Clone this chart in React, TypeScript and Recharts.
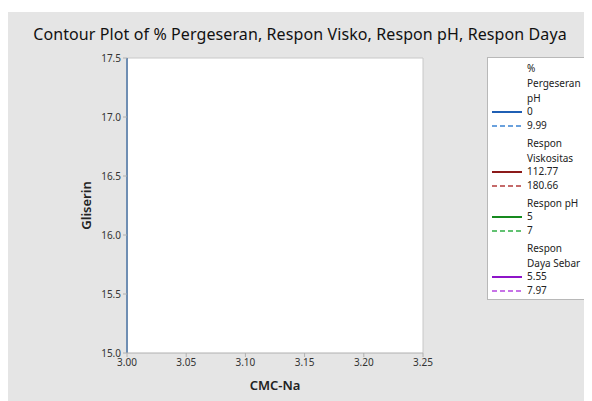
import React from "react";
import {
  ComposedChart,
  Line,
  XAxis,
  YAxis,
  CartesianGrid,
  ReferenceLine,
} from "recharts";

const xTicks = [3.0, 3.05, 3.1, 3.15, 3.2, 3.25];
const yTicks = [15.0, 15.5, 16.0, 16.5, 17.0, 17.5];
const pergeseranZero = [
  { cmc: 3.0, gliserin: 15.0 },
  { cmc: 3.0, gliserin: 17.5 },
];

const legendGroups = [
  { title: ["%", "Pergeseran", "pH"], solid: "0", dashed: "9.99", c1: "#1f5fb4", c2: "#3a82d2" },
  { title: ["Respon", "Viskositas"], solid: "112.77", dashed: "180.66", c1: "#8c1a1a", c2: "#b23a3a" },
  { title: ["Respon pH"], solid: "5", dashed: "7", c1: "#168a1e", c2: "#2fae44" },
  { title: ["Respon", "Daya Sebar"], solid: "5.55", dashed: "7.97", c1: "#8e14c8", c2: "#b545e0" },
];

const FONT = "'Noto Sans', 'Open Sans', sans-serif";

const LegendBox = () => {
  const row = 14;
  const items: React.ReactNode[] = [];
  let y = 12;
  legendGroups.forEach((g, gi) => {
    if (gi > 0) y += 4;
    g.title.forEach((t) => {
      items.push(
        <text key={`t${gi}${t}`} x={40} y={y} fontSize={10} fill="#222" dominantBaseline="middle">
          {t}
        </text>
      );
      y += row + 1;
    });
    y -= 2;
    items.push(
      <g key={`s${gi}`}>
        <line x1={5} x2={35} y1={y} y2={y} stroke={g.c1} strokeWidth={2} />
        <text x={40} y={y} fontSize={10} fill="#222" dominantBaseline="middle">{g.solid}</text>
      </g>
    );
    y += row;
    items.push(
      <g key={`d${gi}`}>
        <line x1={5} x2={35} y1={y} y2={y} stroke={g.c2} strokeWidth={1.5} strokeDasharray="5 3" />
        <text x={40} y={y} fontSize={10} fill="#222" dominantBaseline="middle">{g.dashed}</text>
      </g>
    );
    y += row;
  });
  return (
    <svg width={102} height={243} style={{ display: "block", fontFamily: FONT }}>
      <rect x={0.5} y={0.5} width={101} height={242} fill="#fff" stroke="#b8b8b8" />
      {items}
    </svg>
  );
};

export default function App() {
  return (
    <div style={{ marginTop: 4, width: 584, height: 389, background: "#e5e5e5", position: "relative", fontFamily: FONT }}>
      <div
        style={{
          position: "absolute",
          top: 11,
          left: 0,
          width: 584,
          textAlign: "center",
          fontSize: 16,
          letterSpacing: 0.1,
          color: "#111",
          fontFamily: FONT,
        }}
      >
        Contour Plot of % Pergeseran, Respon Visko, Respon pH, Respon Daya
      </div>
      <ComposedChart
        width={584}
        height={389}
        data={pergeseranZero}
        margin={{ top: 46, right: 169, left: 0, bottom: 0 }}
        style={{ fontFamily: FONT }}
      >
        <CartesianGrid fill="#ffffff" fillOpacity={1} horizontal={false} vertical={false} />
        <XAxis
          dataKey="cmc"
          type="number"
          domain={[3.0, 3.25]}
          ticks={xTicks}
          tickFormatter={(v: number) => v.toFixed(2)}
          height={48}
          stroke="#b0b0b0"
          tick={{ fontSize: 10, fill: "#333" }}
          tickSize={4}
          label={{ value: "CMC-Na", position: "insideBottom", offset: 11, fontSize: 13, fill: "#222", fontWeight: 600 }}
        />
        <YAxis
          dataKey="gliserin"
          type="number"
          domain={[15.0, 17.5]}
          ticks={yTicks}
          tickFormatter={(v: number) => v.toFixed(1)}
          width={119}
          stroke="#b0b0b0"
          tick={{ fontSize: 10, fill: "#333" }}
          tickSize={4}
          label={{ value: "Gliserin", angle: -90, position: "insideLeft", offset: 78, fontSize: 13, fill: "#222", fontWeight: 600, style: { textAnchor: "middle" } }}
        />
        <ReferenceLine y={17.5} stroke="#c8c8c8" />
        <ReferenceLine x={3.25} stroke="#c8c8c8" />
        <Line
          dataKey="gliserin"
          stroke="#2f6db6"
          strokeWidth={2}
          dot={false}
          isAnimationActive={false}
        />
      </ComposedChart>
      <div style={{ position: "absolute", left: 479, top: 45 }}>
        <LegendBox />
      </div>
    </div>
  );
}
